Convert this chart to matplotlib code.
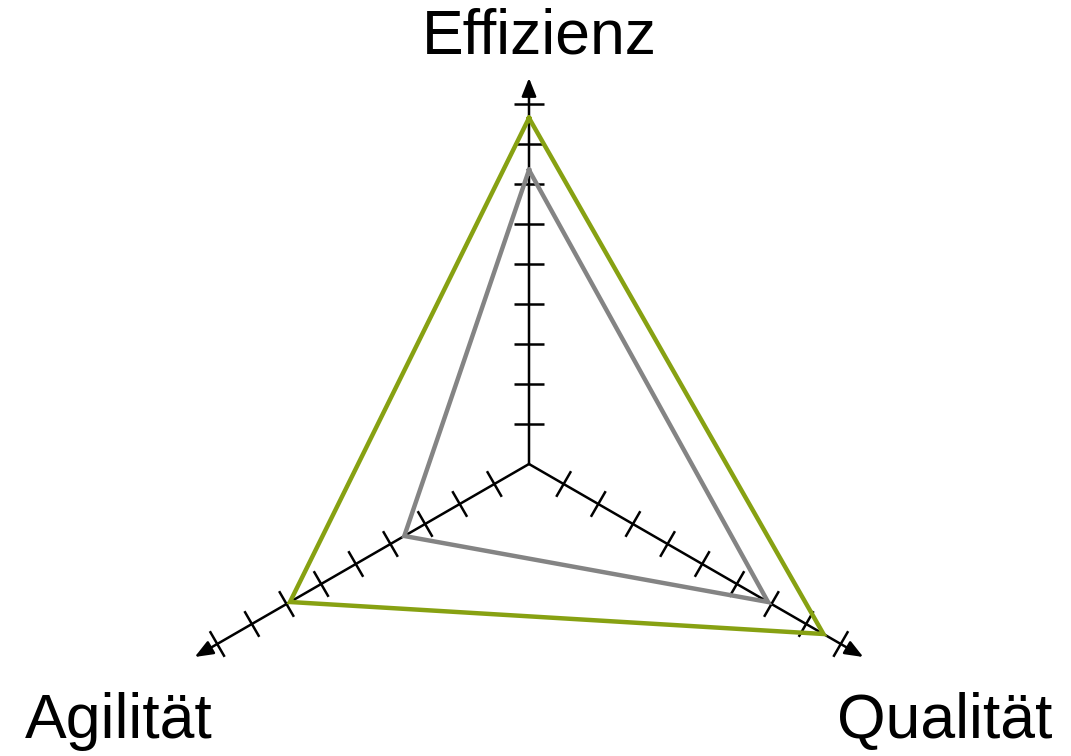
import numpy as np
import matplotlib.pyplot as plt

plt.rcParams["font.family"] = ["Liberation Sans", "DejaVu Sans"]

# Achsen des Netzdiagramms (Winkel in Grad, 0 = rechts)
categories = ["Effizienz", "Qualität", "Agilität"]
angles_deg = [90, -30, 210]

# Werte je Profil, in Skalenschritten
values_green = [8.65, 8.5, 6.9]
values_gray = [7.35, 6.9, 3.6]

n_ticks = 9
axis_len = 9.65

angles = np.deg2rad(angles_deg)


def to_xy(r, a):
    return r * np.cos(a), r * np.sin(a)


fig = plt.figure(figsize=(10.71, 7.56), dpi=100)
ax = fig.add_axes([0, 0, 1, 1])
ax.set_xlim(-529 / 40, (1071 - 529) / 40)
ax.set_ylim(-(756 - 464) / 40, 464 / 40)
ax.set_aspect("equal")
ax.axis("off")

# Achsen mit Pfeilspitzen und Querstrichen
half = 0.37
for a in angles:
    x_end, y_end = to_xy(axis_len, a)
    ax.annotate(
        "", xy=(x_end, y_end), xytext=(0, 0),
        arrowprops=dict(arrowstyle="-|>,head_length=0.55,head_width=0.22",
                        color="black", lw=1.8, mutation_scale=20,
                        shrinkA=0, shrinkB=0),
        zorder=2,
    )
    px, py = -np.sin(a), np.cos(a)
    for k in range(1, n_ticks + 1):
        cx, cy = to_xy(k, a)
        ax.plot([cx - half * px, cx + half * px], [cy - half * py, cy + half * py],
                color="black", lw=1.8, solid_capstyle="butt", zorder=2)

# Profile als geschlossene Dreiecke
for vals, col in [(values_gray, "#848484"), (values_green, "#87a112")]:
    xs, ys = to_xy(np.array(vals + vals[:1]), np.append(angles, angles[0]))
    ax.plot(xs, ys, color=col, lw=3.2, solid_joinstyle="miter", zorder=3)

# Achsenbeschriftungen
label_pos = [(0.25, 10.27), (10.4, -6.85), (-10.25, -6.85)]
for name, (lx, ly) in zip(categories, label_pos):
    ax.text(lx, ly, name, ha="center", va="baseline", fontsize=45, color="black")

fig.savefig("out.png", dpi=100)
